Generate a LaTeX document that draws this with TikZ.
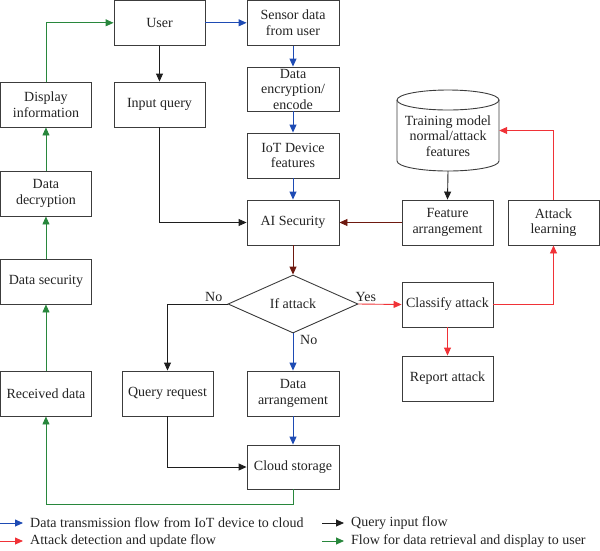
\documentclass[tikz,border=0pt]{standalone}
\usepackage{fontspec}
\setmainfont{Liberation Serif}
\usetikzlibrary{arrows.meta,shapes.geometric}
\definecolor{blueflow}{RGB}{30,75,180}
\definecolor{redflow}{RGB}{240,50,55}
\definecolor{greenflow}{RGB}{40,135,60}
\definecolor{darkflow}{RGB}{110,25,15}
\definecolor{blackflow}{RGB}{30,30,30}
\definecolor{boxline}{RGB}{60,60,60}
\definecolor{txt}{RGB}{35,35,35}
\tikzset{
  box/.style={draw=boxline, line width=0.9pt, rectangle, minimum width=91pt, minimum height=45pt, align=center, inner sep=1pt, text=txt, font=\fontsize{14}{15.5}\selectfont},
  dia/.style={draw=boxline, line width=0.9pt, diamond, minimum width=130pt, minimum height=58pt, inner sep=0pt, text=txt, font=\fontsize{14}{15.5}\selectfont},
  lbl/.style={font=\fontsize{14}{15.5}\selectfont, inner sep=0pt, text=txt},
  flow/.style={line width=0.9pt, -{Triangle[length=8pt,width=7pt]}},
  bflow/.style={flow, blueflow},
  rflow/.style={flow, redflow},
  gflow/.style={flow, greenflow},
  dflow/.style={flow, darkflow},
  kflow/.style={flow, blackflow},
}
\begin{document}
\begin{tikzpicture}[x=1pt,y=-1pt]
\useasboundingbox (0,0) rectangle (600,550);
% boxes
\node[box] (user) at (159.5,22.8) {User};
\node[box, minimum width=92pt] (sensor) at (293,22.8) {Sensor data\\from user};
\node[box] (input) at (159.5,104.5) {Input query};
\node[box] (display) at (45.95,104.5) {Display\\information};
\node[box, minimum width=92pt, minimum height=44pt] (encrypt) at (293,89) {Data\\encryption/\\encode};
\node[box, minimum width=92pt] (iot) at (293,155.5) {IoT Device\\features};
\node[box, minimum width=92pt] (ai) at (293,222.5) {AI Security};
\node[box] (decrypt) at (45.95,193.5) {Data\\decryption};
\node[box] (datasec) at (45.95,281.5) {Data security};
\node[box] (received) at (45.95,393.5) {Received data};
\node[box] (queryreq) at (167.5,393.5) {Query request};
\node[box, minimum width=92pt] (arrange) at (293,393.5) {Data\\arrangement};
\node[box, minimum width=92pt, minimum height=44pt] (cloud) at (293,467) {Cloud storage};
\node[dia] (ifatt) at (293,304) {If attack};
\node[box] (featarr) at (447.5,222.5) {Feature\\arrangement};
\node[box] (attlearn) at (553.5,222.5) {Attack\\learning};
\node[box] (classify) at (447.5,304.5) {Classify attack};
\node[box] (report) at (447.5,378.5) {Report attack};
% cylinder
\node[lbl, minimum width=102pt, minimum height=81pt, align=center] (train) at (448,130.5) {};
\node[lbl, align=center] (traintext) at (448,136) {Training model\\normal/attack\\features};
\draw[boxline, line width=0.9pt] (397,100) -- (397,161) arc[start angle=180, end angle=0, x radius=51, y radius=10] -- (499,100);
\draw[boxline, line width=0.9pt] (448,100) ellipse [x radius=51, y radius=10];
% connectors
\draw[gflow] (display.north) |- (user.west);
\draw[bflow] (user.east) -- (sensor.west);
\draw[kflow] (user.south) -- (input.north);
\draw[bflow] (sensor.south) -- (encrypt.north);
\draw[bflow] (encrypt.south) -- (iot.north);
\draw[bflow] (iot.south) -- (ai.north);
\draw[kflow] (input.south) |- (ai.west);
\draw[kflow] (train.south) -- (featarr.north);
\draw[dflow] (featarr.west) -- (ai.east);
\draw[dflow] (ai.south) -- (ifatt.north);
\draw[rflow] (attlearn.north) |- (train.east);
\draw[rflow] (ifatt.east) -- (classify.west);
\node[lbl, anchor=south west] (yes) at ([xshift=-3pt,yshift=2pt]ifatt.east) {Yes};
\draw[rflow] (classify.east) -| (attlearn.south);
\draw[rflow] (classify.south) -- (report.north);
\draw[kflow] (ifatt.west) -| (queryreq.north);
\node[lbl, anchor=south east] (noleft) at ([xshift=-5pt,yshift=2pt]ifatt.west) {No};
\draw[bflow] (ifatt.south) -- (arrange.north);
\node[lbl, anchor=north west] (nodown) at ([xshift=7pt,yshift=-2pt]ifatt.south) {No};
\draw[bflow] (arrange.south) -- (cloud.north);
\draw[kflow] (queryreq.south) |- (cloud.west);
\coordinate (cbend) at (293,504);
\draw[gflow] (cloud.south) -- (cbend) -| (received.south);
\draw[gflow] (received.north) -- (datasec.south);
\draw[gflow] (datasec.north) -- (decrypt.south);
\draw[gflow] (decrypt.north) -- (display.south);
% legend
\node[lbl, anchor=west] (l1) at (30,523) {Data transmission flow from IoT device to cloud};
\node[lbl, anchor=west] (l2) at (30,541) {Attack detection and update flow};
\node[lbl, anchor=west] (l3) at (351,523) {Query input flow};
\node[lbl, anchor=west] (l4) at (351,541) {Flow for data retrieval and display to user};
\coordinate (s1) at (0,523);
\coordinate (s2) at (0,541);
\coordinate (s3) at (322,523);
\coordinate (s4) at (322,541);
\draw[bflow] (s1) -- ([xshift=-7pt]l1.west);
\draw[rflow] (s2) -- ([xshift=-7pt]l2.west);
\draw[kflow] (s3) -- ([xshift=-7pt]l3.west);
\draw[gflow] (s4) -- ([xshift=-7pt]l4.west);
\end{tikzpicture}
\end{document}
